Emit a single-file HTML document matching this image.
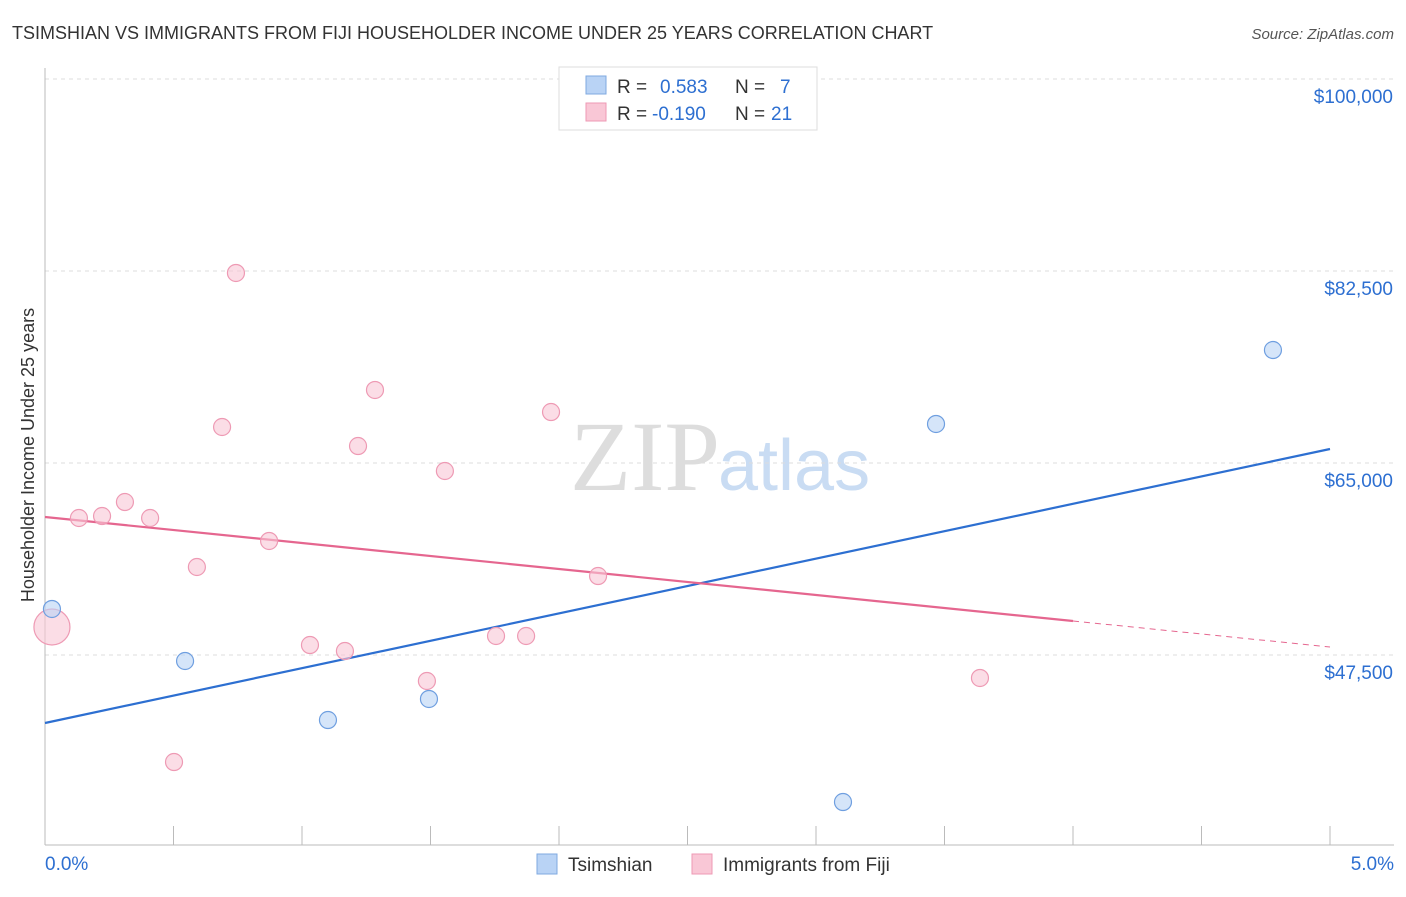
<!DOCTYPE html>
<html><head><meta charset="utf-8"><style>
body{margin:0;background:#fff;font-family:"Liberation Sans",sans-serif}
</style></head><body>
<svg width="1406" height="892" xmlns="http://www.w3.org/2000/svg" id="chart">
<text x="12" y="39" font-size="18" fill="#333">TSIMSHIAN VS IMMIGRANTS FROM FIJI HOUSEHOLDER INCOME UNDER 25 YEARS CORRELATION CHART</text>
<text x="1394" y="39" font-size="15" fill="#555" font-style="italic" text-anchor="end">Source: ZipAtlas.com</text>
<text x="720" y="490" font-size="100" fill="#ddd" text-anchor="end" font-family="Liberation Serif,serif">ZIP</text>
<text x="718" y="490" font-size="72" fill="#c9dcf3">atlas</text>
<text transform="translate(34,455) rotate(-90)" font-size="18" fill="#333" text-anchor="middle">Householder Income Under 25 years</text>
<g id="grid"></g><g id="axes"></g><g id="lines"></g><g id="pts"></g>
<g>
<rect x="559" y="67" width="258" height="63" fill="#fff" stroke="#ddd"/>
<rect x="586" y="76" width="20" height="18" fill="#b9d3f5" stroke="#7fa9e0"/>
<rect x="586" y="103" width="20" height="18" fill="#f9c7d6" stroke="#ee9ab4"/>
<text x="617" y="93" font-size="19" fill="#333">R = <tspan fill="#2d6fd1" x="660">0.583</tspan><tspan x="735" fill="#333">N = </tspan><tspan fill="#2d6fd1" x="780">7</tspan></text>
<text x="617" y="120" font-size="19" fill="#333">R = <tspan fill="#2d6fd1" x="652">-0.190</tspan><tspan x="735" fill="#333">N = </tspan><tspan fill="#2d6fd1" x="771">21</tspan></text>
</g>
<g>
<rect x="537" y="854" width="20" height="20" fill="#b9d3f5" stroke="#7fa9e0"/>
<text x="568" y="871" font-size="19" fill="#333">Tsimshian</text>
<rect x="692" y="854" width="20" height="20" fill="#f9c7d6" stroke="#ee9ab4"/>
<text x="723" y="871" font-size="19" fill="#333">Immigrants from Fiji</text>
</g>
</svg>
<script>
const yTicks=[47500,65000,82500,100000];
const yTickLabels=["$47,500","$65,000","$82,500","$100,000"];
const xTickLabels=["0.0%","5.0%"];
const tsX=[0.027,0.545,1.101,1.494,3.105,3.467,4.778];
const tsY=[51693,46953,41575,43490,34101,68555,75299];
const fjX=[0.027,0.132,0.222,0.311,0.409,0.591,0.502,0.689,0.743,0.872,1.031,1.167,1.218,1.284,1.486,1.556,1.755,1.872,1.969,2.152,3.638];
const fjY=[50052,59987,60169,61445,59987,55521,37747,68281,82318,57891,48411,47864,66549,71654,45130,64271,49232,49232,69648,54700,45404];
const tsTrend=[41302,66276];
const fjTrend=[60078,48229];
const NS="http://www.w3.org/2000/svg";
const X=v=>45+v*257, Y=v=>79+(100000-v)/17500*192;
function mk(p,t,a){const e=document.createElementNS(NS,t);for(const k in a)e.setAttribute(k,a[k]);document.getElementById(p).appendChild(e);return e;}
yTicks.forEach((t,i)=>{
 const l=mk('grid','line',{x1:45,x2:1394,y1:Y(t),y2:Y(t),stroke:'#ddd','stroke-dasharray':'4,4'});
 
 
 const tx=mk('grid','text',{x:1393,y:Y(t)+24,'font-size':19,fill:'#2d6fd1','text-anchor':'end'});
 tx.textContent=yTickLabels[i];
 
 
});
mk('axes','line',{x1:45,x2:45,y1:68,y2:845,stroke:'#bbb'});
const xa=mk('axes','line',{x1:45,x2:1394,y1:845,y2:845,stroke:'#bbb'});


for(let i=1;i<=10;i++){mk('axes','line',{x1:X(i*0.5),x2:X(i*0.5),y1:826,y2:845,stroke:'#bbb'});}
[[0,45,'start'],[5,1394,'end']].forEach((d,i)=>{
 const t=mk('axes','text',{x:d[1],y:870,'font-size':19,fill:'#2d6fd1','text-anchor':d[2]});
 t.textContent=xTickLabels[i];
 
 
});
const tl=mk('lines','line',{x1:X(0),y1:Y(tsTrend[0]),x2:X(5),y2:Y(tsTrend[1]),stroke:'#2d6fd1','stroke-width':2.2});


const fy4=fjTrend[0]+(fjTrend[1]-fjTrend[0])*0.8;
const fl=mk('lines','line',{x1:X(0),y1:Y(fjTrend[0]),x2:X(4),y2:Y(fy4),stroke:'#e5668f','stroke-width':2.2});


const fd=mk('lines','line',{x1:X(4),y1:Y(fy4),x2:X(5),y2:Y(fjTrend[1]),stroke:'#e5668f','stroke-width':1,'stroke-dasharray':'6,5'});


fjX.forEach((x,i)=>{
 const c=mk('pts','circle',{cx:X(x),cy:Y(fjY[i]),r:i==0?18:8.5,fill:'#f9c7d6','fill-opacity':0.6,stroke:'#ee9ab4','stroke-width':1.2});
 
 
});
tsX.forEach((x,i)=>{
 const c=mk('pts','circle',{cx:X(x),cy:Y(tsY[i]),r:8.5,fill:'#b9d3f5','fill-opacity':0.6,stroke:'#6f9fe0','stroke-width':1.2});
 
 
});
</script>
</body></html>
